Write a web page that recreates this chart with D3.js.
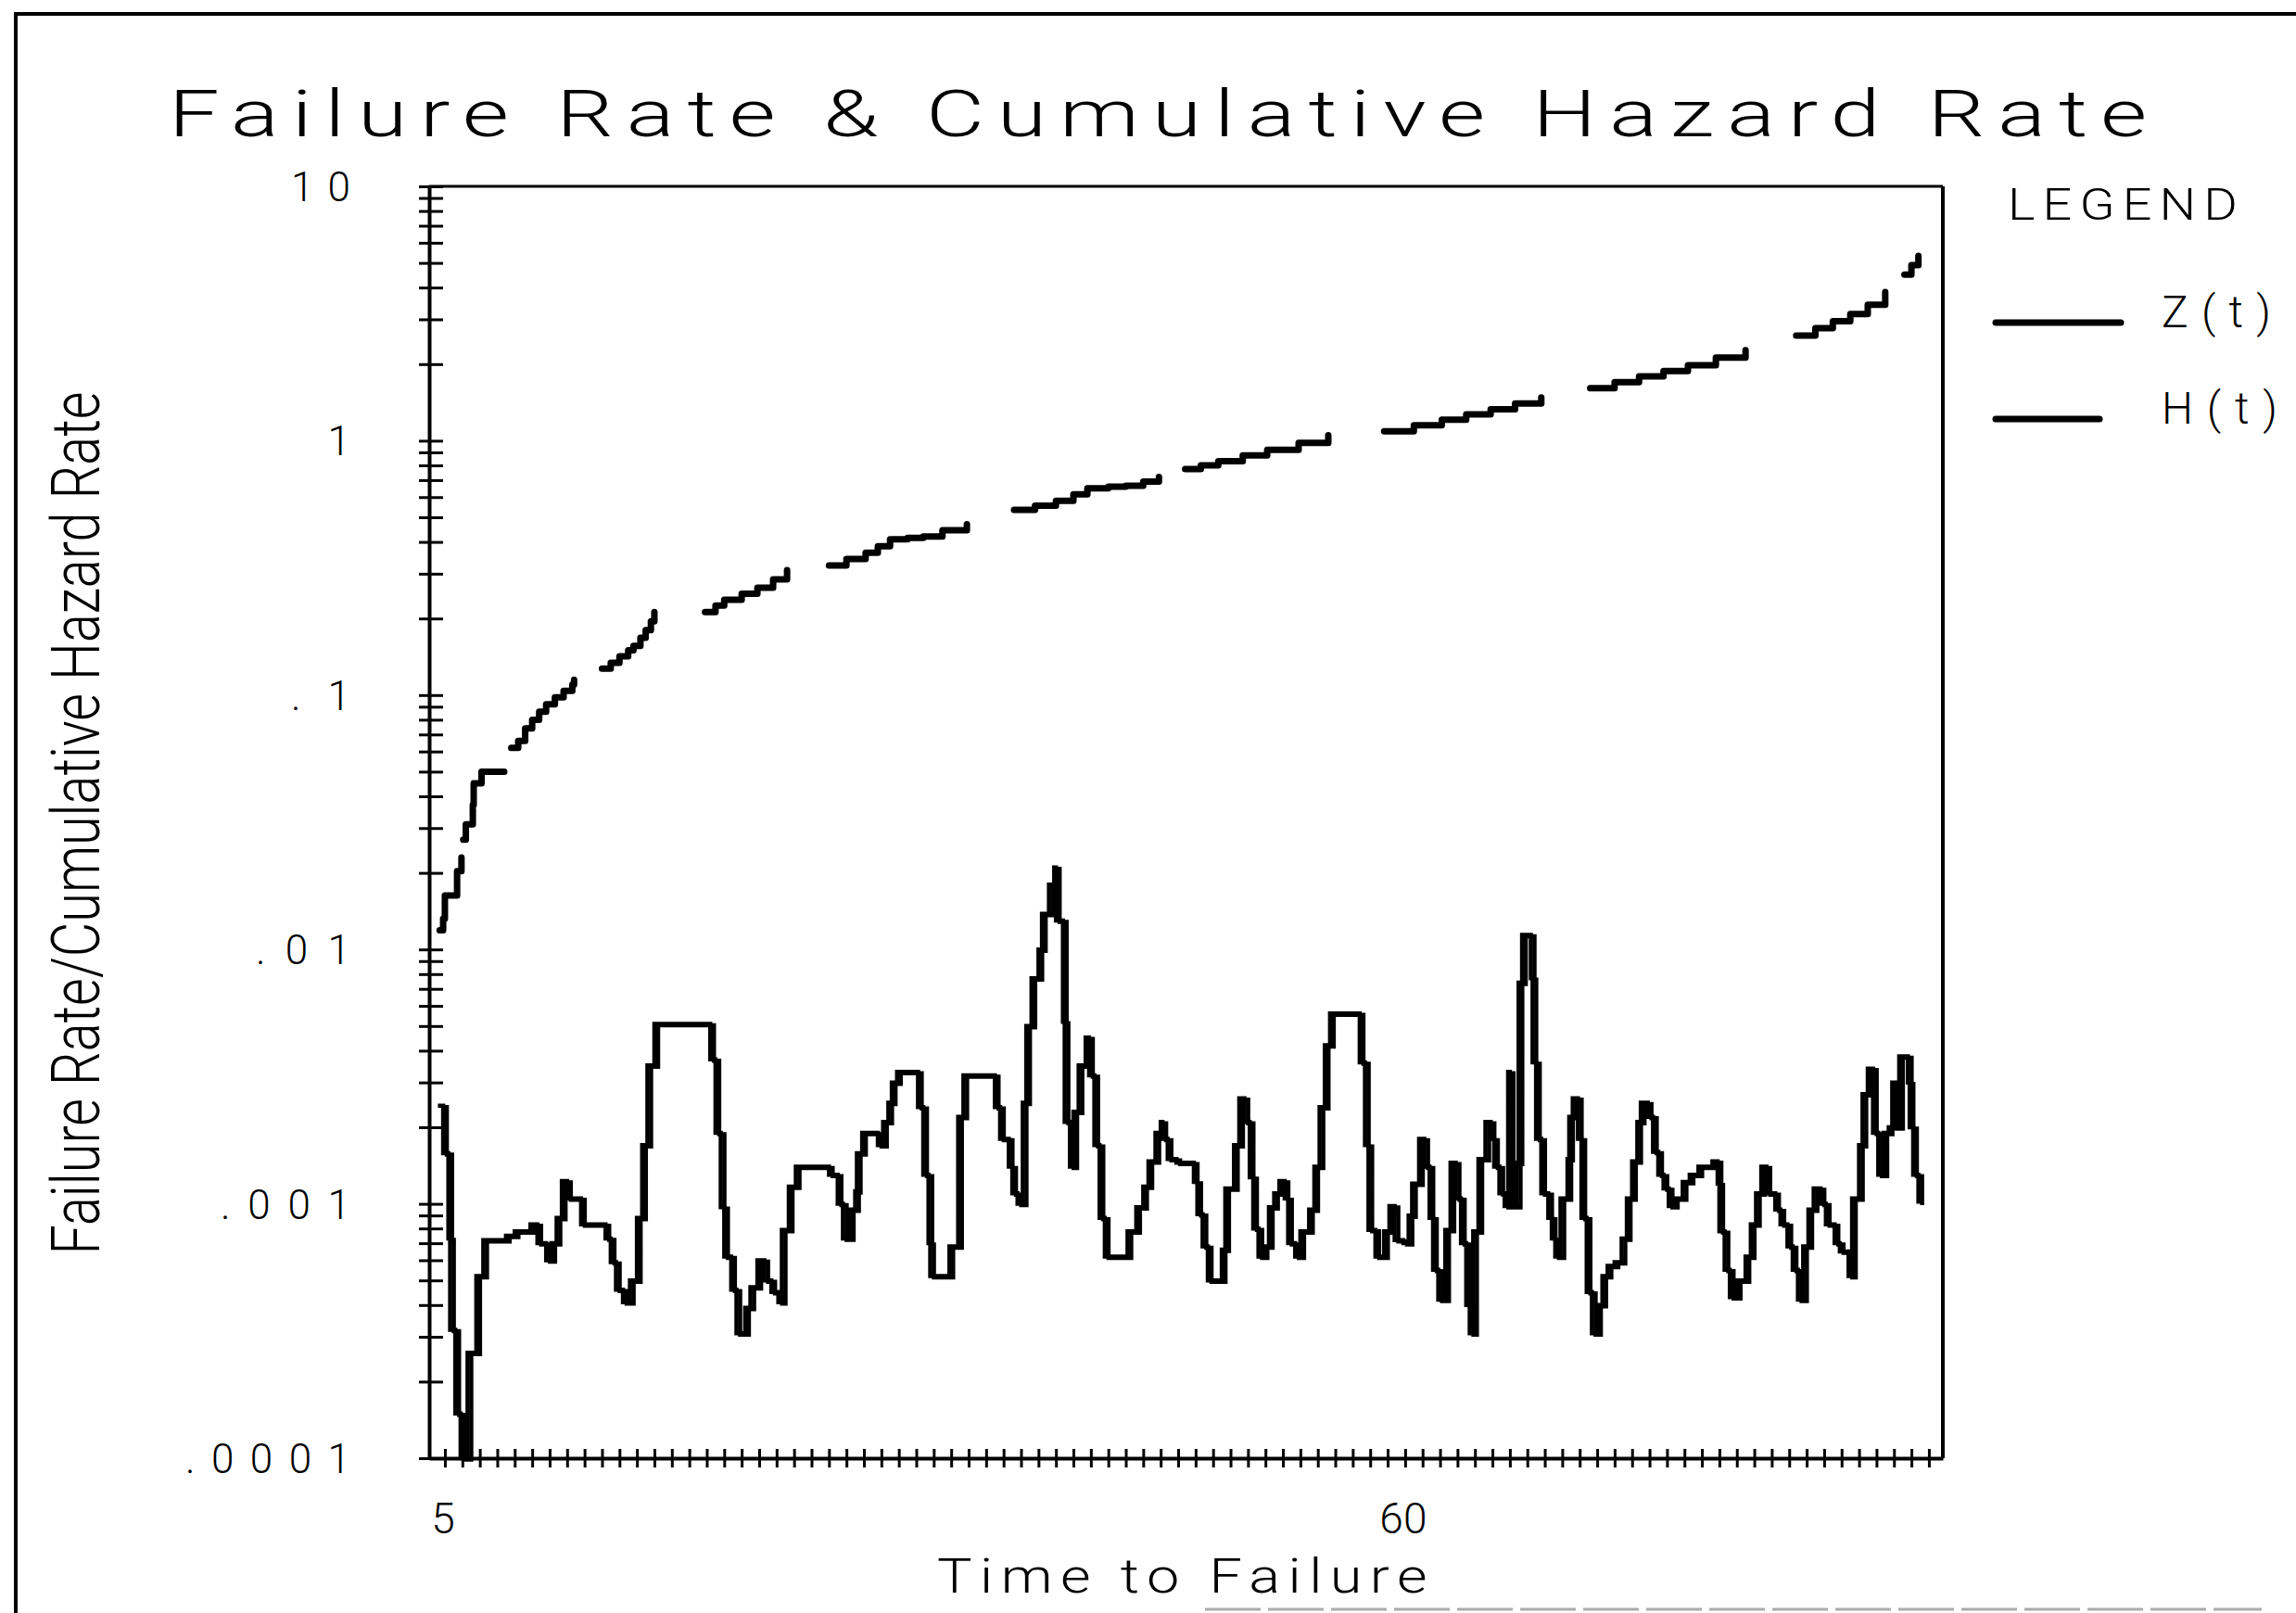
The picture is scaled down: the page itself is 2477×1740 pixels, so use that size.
<!DOCTYPE html>
<html>
<head>
<meta charset="utf-8">
<script src="https://cdn.jsdelivr.net/npm/d3@7"></script>
<style>
  body { margin: 0; background: #fff; }
  text { font-family: Roboto, "DejaVu Sans", sans-serif; font-weight: 300; fill: #000; }
</style>
</head>
<body>
<script>
var svg_width = 2477, svg_height = 1740;
var plot_left = 463, plot_right = 2096, plot_top = 201, plot_bottom = 1573;

var title = "Failure Rate & Cumulative Hazard Rate";
var y_title = "Failure Rate/Cumulative Hazard Rate";
var x_title = "Time to Failure";
var legend_title = "LEGEND";
var series_names = ["Z(t)", "H(t)"];

var x_domain = [4.1, 90.8];
var y_domain = [0.0001, 10];
var x_labels = [5, 60];
var y_labels = [10, 1, 0.1, 0.01, 0.001, 0.0001];
var y_label_text = ["10", "1", ".1", ".01", ".001", ".0001"];

// failure rate Z(t): [time, rate], drawn as a step line
var z_data = [
  [4.6, 0.00243], [4.9, 0.00158], [5.2, 0.00073], [5.3, 0.00032], [5.6, 0.00015],
  [5.9, 0.0001], [6.3, 0.00026], [6.8, 0.00052], [7.2, 0.00072], [8.5, 0.00075],
  [9.0, 0.00078], [9.9, 0.00083], [10.3, 0.0007], [10.8, 0.0006], [11.1, 0.0007],
  [11.4, 0.00088], [11.7, 0.00123], [12.0, 0.00105], [12.8, 0.00083], [14.2, 0.00073],
  [14.5, 0.00059], [14.8, 0.00046], [15.2, 0.00041], [15.6, 0.0005], [16.0, 0.00088],
  [16.3, 0.0017], [16.6, 0.0035], [17.0, 0.0051], [20.2, 0.0037], [20.5, 0.0019],
  [20.8, 0.00097], [21.0, 0.00062], [21.4, 0.00046], [21.7, 0.00031], [22.2, 0.00039],
  [22.5, 0.00047], [22.9, 0.0006], [23.3, 0.0005], [23.7, 0.00045], [24.1, 0.00041],
  [24.3, 0.00079], [24.7, 0.00117], [25.1, 0.0014], [27.0, 0.0013], [27.5, 0.001],
  [27.8, 0.00073], [28.2, 0.00095], [28.5, 0.00112], [28.6, 0.00158], [28.9, 0.0019],
  [29.8, 0.0017], [30.1, 0.0021], [30.4, 0.0025], [30.6, 0.003], [30.9, 0.0033],
  [32.1, 0.0024], [32.4, 0.0013], [32.7, 0.0007], [32.8, 0.00052], [33.9, 0.00068],
  [34.4, 0.0022], [34.7, 0.0032], [36.5, 0.0024], [36.8, 0.0018], [37.3, 0.0014],
  [37.5, 0.0011], [37.8, 0.001], [38.1, 0.0025], [38.3, 0.005], [38.6, 0.0077],
  [39.0, 0.01], [39.2, 0.0138], [39.6, 0.018], [39.9, 0.021], [40.0, 0.013],
  [40.4, 0.0052], [40.5, 0.0021], [40.8, 0.0014], [41.0, 0.0023], [41.3, 0.0035],
  [41.7, 0.0045], [41.9, 0.0032], [42.2, 0.0017], [42.5, 0.00088], [42.8, 0.00062],
  [44.1, 0.00078], [44.6, 0.00097], [45.0, 0.00117], [45.3, 0.00147], [45.7, 0.0019],
  [46.0, 0.0021], [46.1, 0.0018], [46.4, 0.0015], [46.9, 0.00145], [47.9, 0.00122],
  [48.1, 0.00091], [48.4, 0.00068], [48.7, 0.0005], [49.5, 0.00066], [49.7, 0.00115],
  [50.2, 0.0017], [50.5, 0.0026], [50.8, 0.0021], [51.1, 0.00127], [51.3, 0.0008],
  [51.6, 0.00062], [51.9, 0.00068], [52.2, 0.00097], [52.5, 0.0011], [52.8, 0.00123],
  [53.1, 0.00105], [53.3, 0.0007], [53.7, 0.00062], [54.0, 0.00078], [54.5, 0.00095],
  [54.8, 0.0014], [55.1, 0.0024], [55.4, 0.0042], [55.7, 0.0056], [57.4, 0.0036],
  [57.7, 0.0017], [57.9, 0.00079], [58.3, 0.00062], [58.8, 0.00078], [59.1, 0.00098],
  [59.4, 0.00072], [59.9, 0.0007], [60.2, 0.0009], [60.4, 0.0012], [60.8, 0.0018],
  [61.1, 0.0014], [61.4, 0.00088], [61.6, 0.00055], [61.9, 0.00042], [62.3, 0.00079],
  [62.6, 0.00145], [62.9, 0.00105], [63.2, 0.0007], [63.5, 0.0004], [63.7, 0.00031],
  [63.9, 0.00078], [64.2, 0.0015], [64.6, 0.0021], [64.9, 0.0018], [65.1, 0.0014],
  [65.4, 0.0011], [65.7, 0.00098], [65.9, 0.0033], [66.0, 0.00098], [66.4, 0.00145],
  [66.5, 0.0074], [66.7, 0.0114], [67.2, 0.0077], [67.3, 0.0036], [67.5, 0.0018],
  [67.8, 0.0011], [68.2, 0.00088], [68.4, 0.00073], [68.6, 0.00062], [68.9, 0.00105],
  [69.3, 0.0015], [69.4, 0.0022], [69.6, 0.0026], [69.9, 0.0018], [70.1, 0.00088],
  [70.4, 0.00045], [70.7, 0.00031], [71.0, 0.0004], [71.3, 0.00052], [71.6, 0.00057],
  [72.0, 0.00059], [72.4, 0.00073], [72.7, 0.00105], [73.0, 0.00147], [73.3, 0.0021],
  [73.5, 0.0025], [73.9, 0.0022], [74.2, 0.0016], [74.5, 0.0013], [74.8, 0.00115],
  [75.1, 0.00098], [75.4, 0.00105], [75.9, 0.00122], [76.3, 0.0013], [76.8, 0.0014],
  [77.6, 0.00147], [77.9, 0.0012], [78.0, 0.00078], [78.3, 0.00055], [78.6, 0.00043],
  [79.0, 0.0005], [79.5, 0.00062], [79.8, 0.00083], [80.1, 0.0011], [80.4, 0.0014],
  [80.7, 0.0011], [81.2, 0.00095], [81.5, 0.00083], [81.9, 0.00068], [82.2, 0.00055],
  [82.5, 0.00042], [82.8, 0.00068], [83.1, 0.00095], [83.4, 0.00115], [83.8, 0.001],
  [84.1, 0.00083], [84.6, 0.0007], [84.9, 0.00065], [85.4, 0.00052], [85.6, 0.00105],
  [86.0, 0.0017], [86.2, 0.0027], [86.5, 0.0034], [86.8, 0.0019], [87.1, 0.0013],
  [87.4, 0.0019], [87.7, 0.002], [87.9, 0.003], [88.1, 0.002], [88.3, 0.0038],
  [88.8, 0.003], [88.9, 0.002], [89.1, 0.0013], [89.4, 0.001]
];

// cumulative hazard H(t): [time, value]; null where the pen is lifted
var h_data = [
  [4.7, 0.0119], [4.9, 0.0132], [5.0, 0.0163], [5.7, 0.0203], [5.95, 0.023], [6.0, null],
  [6.05, 0.027], [6.2, 0.031], [6.6, 0.037], [6.65, 0.045], [7.1, 0.050], [8.4, 0.050], [8.6, null],
  [8.8, 0.062], [9.2, 0.066], [9.6, 0.074], [10.0, 0.080], [10.4, 0.086], [10.8, 0.092],
  [11.3, 0.098], [11.8, 0.104], [12.3, 0.110], [12.4, 0.115], [13.0, null],
  [14.0, 0.127], [14.5, 0.134], [15.0, 0.142], [15.5, 0.150], [15.8, 0.156], [16.2, 0.168],
  [16.5, 0.180], [16.8, 0.195], [17.0, 0.212], [18.0, null],
  [19.9, 0.212], [20.5, 0.225], [21.0, 0.237], [22.0, 0.25], [22.9, 0.264], [23.8, 0.285],
  [24.6, 0.31], [25.0, null],
  [27.0, 0.323], [28.0, 0.343], [29.1, 0.363], [29.8, 0.385], [30.5, 0.41], [31.5, 0.415],
  [32.4, 0.42], [33.5, 0.445], [34.9, 0.47], [36.0, null],
  [37.6, 0.535], [38.8, 0.555], [40.0, 0.58], [41.0, 0.615], [41.8, 0.65], [43.0, 0.66],
  [44.0, 0.665], [45.0, 0.69], [45.9, 0.72], [46.5, null],
  [47.4, 0.774], [48.3, 0.80], [49.3, 0.83], [50.7, 0.875], [52.1, 0.92], [53.9, 0.98],
  [55.6, 1.05], [57.0, null],
  [58.8, 1.09], [60.5, 1.15], [62.1, 1.21], [63.5, 1.27], [64.9, 1.33], [66.3, 1.40],
  [67.8, 1.48], [69.0, null],
  [70.6, 1.61], [72.0, 1.70], [73.4, 1.79], [74.8, 1.88], [76.2, 1.98], [77.8, 2.12],
  [79.5, 2.27], [81.0, null],
  [82.4, 2.59], [83.5, 2.77], [84.5, 2.95], [85.5, 3.15], [86.5, 3.42], [87.5, 3.84], [88.0, null],
  [88.6, 4.5], [89.0, 4.9], [89.4, 5.33]
];

var x_ticks = d3.range(5, 91);
var y_ticks = [10];
for (var k = -4; k <= 0; k++)
  for (var m = 1; m <= 9; m++) y_ticks.push(m * Math.pow(10, k));

var x = d3.scaleLinear().domain(x_domain).range([plot_left, plot_right]);
var y = d3.scaleLog().domain(y_domain).range([plot_bottom, plot_top]);

var svg = d3.select("body").append("svg")
  .attr("width", svg_width).attr("height", svg_height);
svg.append("rect").attr("width", svg_width).attr("height", svg_height).attr("fill", "#fff");

// page frame
svg.append("path")
  .attr("d", "M17," + svg_height + "V15H" + svg_width)
  .attr("fill", "none").attr("stroke", "#000").attr("stroke-width", 4);
svg.append("line")
  .attr("x1", 1300).attr("x2", 2440).attr("y1", 1736).attr("y2", 1736)
  .attr("stroke", "#aaa").attr("stroke-width", 3).attr("stroke-dasharray", "60,8");

// top and right borders of the plot
svg.append("line")
  .attr("x1", plot_left).attr("x2", plot_right).attr("y1", y(10)).attr("y2", y(10))
  .attr("stroke", "#000").attr("stroke-width", 3);
svg.append("line")
  .attr("x1", plot_right).attr("x2", plot_right).attr("y1", plot_top).attr("y2", plot_bottom)
  .attr("stroke", "#000").attr("stroke-width", 4);

// axes, ticks cross the axis line
var xAxis = svg.append("g")
  .attr("transform", "translate(0," + plot_bottom + ")")
  .call(d3.axisBottom(x).tickValues(x_ticks).tickSize(10).tickSizeOuter(0).tickFormat(""));
xAxis.selectAll(".tick line").attr("y1", -10).attr("stroke-width", 3);
xAxis.select(".domain").attr("stroke-width", 4);

var yAxis = svg.append("g")
  .attr("transform", "translate(" + plot_left + ",0)")
  .call(d3.axisLeft(y).tickValues(y_ticks).tickSize(11).tickSizeOuter(0).tickFormat(""));
yAxis.selectAll(".tick line").attr("x1", 15).attr("stroke-width", 3);
yAxis.select(".domain").attr("stroke-width", 4);

// tick labels
svg.selectAll(".ylab").data(y_labels).enter().append("text")
  .attr("class", "ylab")
  .attr("x", 378)
  .attr("y", function(d) { return y(d) + 16; })
  .attr("text-anchor", "end")
  .style("font-size", "44px")
  .attr("textLength", function(d, i) {
    var n = y_label_text[i].length;
    return n > 1 ? 38 * (n - 1) + 26 : null;
  })
  .attr("lengthAdjust", "spacing")
  .text(function(d, i) { return y_label_text[i]; });

svg.selectAll(".xlab").data(x_labels).enter().append("text")
  .attr("class", "xlab")
  .attr("x", function(d) { return x(d) - 2; })
  .attr("y", 1654)
  .attr("text-anchor", "middle")
  .style("font-size", "46px")
  .text(function(d) { return d; });

// titles: letters are spaced and stretched like the plotter font
svg.append("text")
  .attr("x", 182).attr("y", 147)
  .attr("textLength", 2148).attr("lengthAdjust", "spacingAndGlyphs")
  .style("font-size", "70px").style("letter-spacing", "10px")
  .text(title);

svg.append("text")
  .attr("transform", "translate(107,888) rotate(-90)")
  .attr("text-anchor", "middle")
  .attr("textLength", 931).attr("lengthAdjust", "spacingAndGlyphs")
  .style("font-size", "72px")
  .text(y_title);

svg.append("text")
  .attr("x", 1011).attr("y", 1718)
  .attr("textLength", 537).attr("lengthAdjust", "spacingAndGlyphs")
  .style("font-size", "52px").style("letter-spacing", "7px")
  .text(x_title);

// series
var zLine = d3.line()
  .x(function(d) { return x(d[0]); })
  .y(function(d) { return y(d[1]); })
  .curve(d3.curveStepAfter);

var hLine = d3.line()
  .defined(function(d) { return d[1] !== null; })
  .x(function(d) { return x(d[0]); })
  .y(function(d) { return y(d[1]); })
  .curve(d3.curveStepAfter);

svg.append("path").datum(z_data)
  .attr("d", zLine).attr("fill", "none").attr("stroke", "#000")
  .attr("stroke-width", 4.5).attr("stroke-linejoin", "miter");
svg.append("path").datum(z_data)
  .attr("transform", "translate(4,1.5)")
  .attr("d", zLine).attr("fill", "none").attr("stroke", "#000")
  .attr("stroke-width", 4.5).attr("stroke-linejoin", "miter");

svg.append("path").datum(h_data)
  .attr("d", hLine).attr("fill", "none").attr("stroke", "#000")
  .attr("stroke-width", 7).attr("stroke-linecap", "round").attr("stroke-linejoin", "round");

// legend
svg.append("text")
  .attr("x", 2166).attr("y", 237)
  .attr("textLength", 256).attr("lengthAdjust", "spacingAndGlyphs")
  .style("font-size", "48px").style("letter-spacing", "7px")
  .text(legend_title);

var legend_y = [348, 452];
var legend_len = [135, 112];
var legend_w = [118, 125];
series_names.forEach(function(name, i) {
  svg.append("line")
    .attr("x1", 2153).attr("x2", 2153 + legend_len[i])
    .attr("y1", legend_y[i]).attr("y2", legend_y[i])
    .attr("stroke", "#000").attr("stroke-width", 7).attr("stroke-linecap", "round");
  svg.append("text")
    .attr("x", 2332).attr("y", legend_y[i] + 5)
    .attr("textLength", legend_w[i]).attr("lengthAdjust", "spacing")
    .style("font-size", "48px")
    .text(name);
});
</script>
</body>
</html>
